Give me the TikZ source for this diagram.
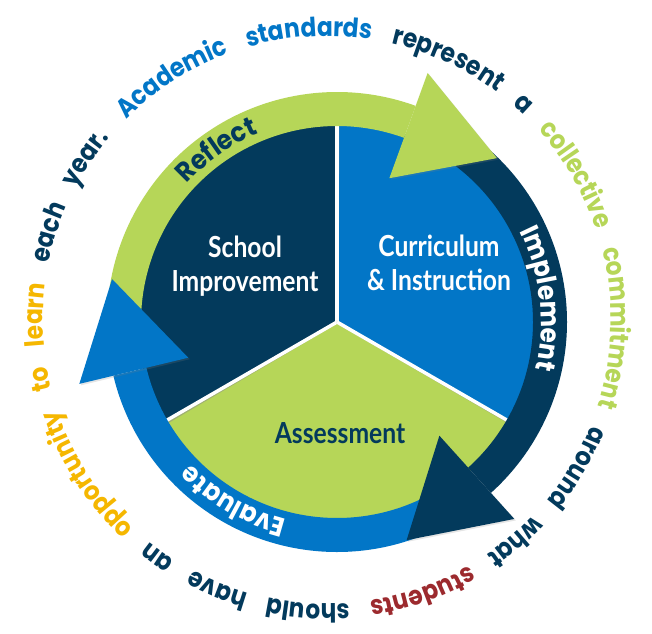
\documentclass[tikz,border=0pt]{standalone}
\usepackage{fontspec}
\usepackage{tikz}
\usetikzlibrary{decorations.text,shadows}

\setmainfont{Lato}
\newfontfamily\ringfont[FakeStretch=0.88]{Poppins}
\newfontfamily\bandfont[FakeStretch=0.92]{Poppins}
\newfontfamily\piefont[FakeStretch=0.85]{Lato}

\definecolor{cyclenavy}{HTML}{033A5C}
\definecolor{cycleblue}{HTML}{0276C7}
\definecolor{cyclegreen}{HTML}{B6D658}
\definecolor{cyclegold}{HTML}{F5B700}
\definecolor{cyclered}{HTML}{9C2A2E}

% format switches used inside the curved texts
\newcommand\ringtext[1]{\ringfont\bfseries\fontsize{26.5}{26.5}\selectfont\color{#1}}
\newcommand\bandtext[1]{\bandfont\bfseries\fontsize{27}{27}\selectfont\color{#1}}

\begin{document}
\begin{tikzpicture}[x=1pt, y=1pt,
    pietext/.style={font=\piefont\bfseries\fontsize{29}{34}\selectfont, align=center, inner sep=0pt},
    divider/.style={white, line width=3.5pt},
    headshadow/.style={drop shadow={shadow xshift=1.5pt, shadow yshift=-1.5pt, opacity=.2}}]
	\fill[white] (-337,-311) rectangle (315,322);
	\useasboundingbox (-337,-311) rectangle (315,322);
	\coordinate (hub) at (0,0);

	% the three sectors
	\fill[cyclenavy] (hub) -- (90:200) arc[start angle=90, end angle=210, radius=200] -- cycle;
	\fill[cycleblue] (hub) -- (-30:200) arc[start angle=-30, end angle=90, radius=200] -- cycle;
	\fill[cyclegreen] (hub) -- (210:200) arc[start angle=210, end angle=330, radius=200] -- cycle;
	\foreach \a in {90,210,330} {
		\draw[black!45, line width=3pt, opacity=.5, shift={(1,-1.5)}] (hub) -- (\a:200);
		\draw[divider] (hub) -- (\a:200);
	}

	% ring bands, then the heads on top
	\foreach \c/\s/\e in {cyclegreen/185/70, cyclenavy/60/-48, cycleblue/-62/-166.5}
		\fill[\c] (\s:230) arc[start angle=\s, end angle=\e, radius=230] -- (\e:196) arc[start angle=\e, end angle=\s, radius=196] -- cycle;
	\foreach \c/\e in {cyclegreen/70, cyclenavy/-48, cycleblue/-166.5}
		\fill[\c, headshadow] (\e:153) -- (\e:265) -- ({\e-24.3}:229) -- cycle;

	\node[pietext, white] (school) at (-92,56) {School\\Improvement};
	\node[pietext, white] (curric) at (102,59) {Curriculum\\\& Instruction};
	\node[pietext, cyclenavy] (assess) at (3,-111) {Assessment};

	\path[decorate, decoration={text along path, text align=center, text={|\bandtext{cyclenavy}|Reflect}}]
		(160:204) arc[start angle=160, end angle=90, radius=204];
	\path[decorate, decoration={text along path, text align=center, text={|\bandtext{white}|Implement}}]
		(41.5:204) arc[start angle=41.5, end angle=-28.5, radius=204];
	\path[decorate, decoration={text along path, text align=center, text={|\bandtext{white}|Evaluate}}]
		(275:204) arc[start angle=275, end angle=205, radius=204];

	\path[shift={(-10,2)}, decorate, decoration={text along path, text align={fit to path stretching spaces},
		text={|\ringtext{cycleblue}|Academic standards |\ringtext{cyclenavy}|represent a |\ringtext{cyclegreen}|collective commitment |\ringtext{cyclenavy}|around what |\ringtext{cyclered}|students |\ringtext{cyclenavy}|should have an |\ringtext{cyclegold}|opportunity to learn |\ringtext{cyclenavy}|each year.}}]
		(135:284) arc[start angle=135, end angle=-220, radius=284];
\end{tikzpicture}
\end{document}
